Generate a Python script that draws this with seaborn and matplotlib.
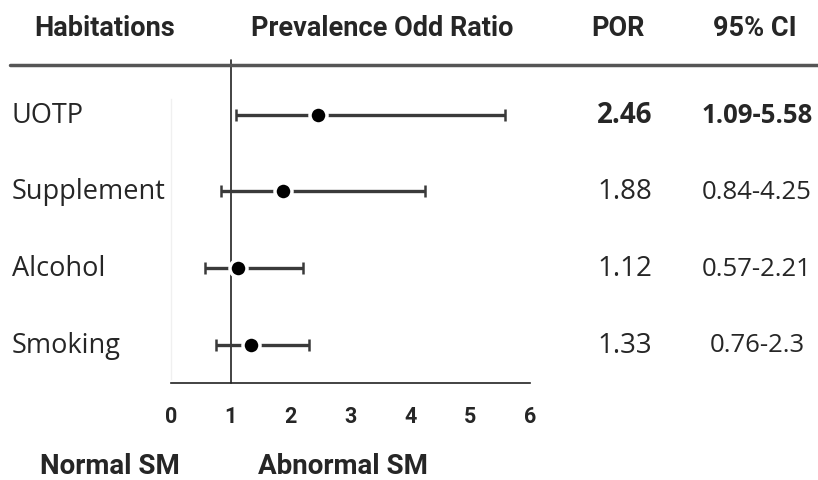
import matplotlib
matplotlib.use("Agg")
import matplotlib.pyplot as plt
import matplotlib.transforms as mtransforms
import numpy as np
import pandas as pd
import seaborn as sns

# Data
habits = ["UOTP", "Supplement", "Alcohol", "Smoking"]
por = [2.46, 1.88, 1.12, 1.33]
ci_low = [1.09, 0.84, 0.57, 0.76]
ci_high = [5.58, 4.25, 2.21, 2.3]
ci_labels = ["1.09-5.58", "0.84-4.25", "0.57-2.21", "0.76-2.3"]
por_labels = ["2.46", "1.88", "1.12", "1.33"]
bold_rows = [True, False, False, False]
xticks = [0, 1, 2, 3, 4, 5, 6]


def main():
    sns.set_style("white")
    plt.rcParams["font.family"] = ["Open Sans", "DejaVu Sans"]
    head_font = ["Roboto", "DejaVu Sans"]

    df = pd.DataFrame({"habit": habits, "por": por, "lo": ci_low, "hi": ci_high})
    df["y"] = np.arange(len(df))[::-1]

    fig = plt.figure(figsize=(8.18, 4.81), dpi=100)
    ax = fig.add_axes([171 / 818, 97 / 481, 359 / 818, 318 / 481])

    # CI lines
    ax.errorbar(df["por"], df["y"],
                xerr=[df["por"] - df["lo"], df["hi"] - df["por"]],
                fmt="none", ecolor="#3a3a3a", elinewidth=2.4,
                capsize=4, capthick=1.8, zorder=2)
    sns.scatterplot(data=df, x="por", y="y", ax=ax, color="black", s=150,
                    edgecolor="white", linewidth=2.5, zorder=3, legend=False)

    ax.set_xlim(0, 6)
    ax.set_ylim(-0.5, 3.65)
    ax.set_xticks(xticks)
    ax.set_xticklabels([str(t) for t in xticks], fontweight="bold",
                       family=head_font, fontsize=15.5)
    ax.set_yticks([])
    ax.set_xlabel("")
    ax.set_ylabel("")
    for s in ["top", "right"]:
        ax.spines[s].set_visible(False)
    ax.spines["left"].set_color("#f0f0f0")
    ax.spines["left"].set_linewidth(1)
    ax.spines["left"].set_bounds(-0.45, 3.2)
    ax.spines["bottom"].set_color("#222222")
    ax.spines["bottom"].set_linewidth(1.2)
    ax.tick_params(axis="x", direction="out", length=7, width=1.2,
                   color="#222222", pad=9)

    # reference line at 1
    ax.axvline(1, ymin=0, ymax=1.015, color="#222222", lw=1.2, clip_on=False,
               zorder=1)

    # header rule
    fig.add_artist(plt.Line2D([10 / 818, 1], [1 - 66 / 481, 1 - 66 / 481],
                              color="#555555", lw=2.5))

    # headers
    hy = 1 - 29 / 481
    for x, txt in [(105, "Habitations"), (382, "Prevalence Odd Ratio"),
                   (618, "POR"), (755, "95% CI")]:
        fig.text(x / 818, hy, txt, ha="center", va="center", fontsize=19.5,
                 fontweight="bold", family=head_font)

    # row labels and table values
    trans = mtransforms.blended_transform_factory(fig.transFigure, ax.transData)
    for i, row in df.iterrows():
        w = "bold" if bold_rows[i] else "normal"
        ax.text(12 / 818, row["y"], row["habit"], transform=trans,
                ha="left", va="center", fontsize=19.5)
        ax.text(625 / 818, row["y"], por_labels[i], transform=trans,
                ha="center", va="center", fontsize=20, fontweight=w)
        ax.text(757 / 818, row["y"], ci_labels[i], transform=trans,
                ha="center", va="center", fontsize=18.5, fontweight=w)

    # bottom labels
    fig.text(40 / 818, 1 - 467 / 481, "Normal SM", ha="left", va="center",
             fontsize=20, fontweight="bold", family=head_font)
    fig.text(258 / 818, 1 - 467 / 481, "Abnormal SM", ha="left", va="center",
             fontsize=20, fontweight="bold", family=head_font)

    fig.savefig("out.png", dpi=100)


if __name__ == "__main__":
    main()
